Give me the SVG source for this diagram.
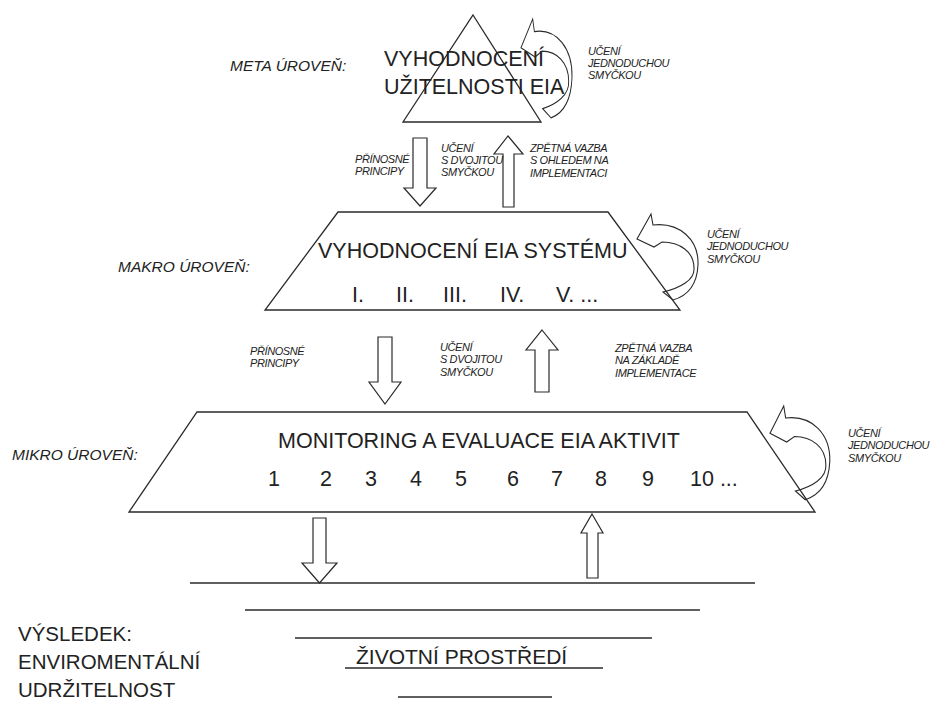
<svg xmlns="http://www.w3.org/2000/svg" width="931" height="724" viewBox="0 0 931 724">
<style>
.ln{fill:none;stroke:#2a2a2a;stroke-width:1.3;stroke-linejoin:miter}
.ar{fill:#fff;stroke:#2a2a2a;stroke-width:1.2}
.cv{fill:none;stroke:#2a2a2a;stroke-width:1.1}
.big{font-family:"Liberation Sans",Arial,sans-serif;font-size:21.5px;fill:#222}
.res{font-family:"Liberation Sans",Arial,sans-serif;font-size:20.5px;fill:#222}
.lvl{font-family:"Liberation Sans",Arial,sans-serif;font-size:15.5px;font-style:italic;fill:#222}
.sm{font-family:"Liberation Sans",Arial,sans-serif;font-size:11px;font-style:italic;fill:#222;letter-spacing:-0.4px}
.num{text-anchor:middle}
</style>
<defs>
<path id="loop" d="M14,0 L0,25 L17,33 L25,28 C43,28 57,38 57,54 C58,66 43,74 26,78 L36,86 C50,82 60,71 61,51 C62,26 43,8 16,11 Z"/>
</defs>
<rect width="931" height="724" fill="#fff"/>

<g id="meta">
<polygon class="ln" points="473,15 541,122 403,122"/>
<text class="big" x="384" y="66">VYHODNOCENÍ</text>
<text class="big" x="384" y="94">UŽITELNOSTI EIA</text>
<text class="lvl" x="230" y="71">META ÚROVEŇ:</text>
</g>

<g id="makro">
<polygon class="ln" points="338,212 608,212 680,310 265,310"/>
<text class="big" x="318" y="258">VYHODNOCENÍ EIA SYSTÉMU</text>
<text class="big" x="352" y="302">I.</text>
<text class="big" x="396" y="302">II.</text>
<text class="big" x="443" y="302">III.</text>
<text class="big" x="500" y="302">IV.</text>
<text class="big" x="556" y="302">V. ...</text>
<text class="lvl" x="118" y="272">MAKRO ÚROVEŇ:</text>
</g>

<g id="mikro">
<polygon class="ln" points="197,412 747,412 815,512 129,512"/>
<text class="big" x="278" y="448">MONITORING A EVALUACE EIA AKTIVIT</text>
<g class="big num">
<text x="274" y="486">1</text>
<text x="326" y="486">2</text>
<text x="371" y="486">3</text>
<text x="416" y="486">4</text>
<text x="461" y="486">5</text>
<text x="513" y="486">6</text>
<text x="557" y="486">7</text>
<text x="601" y="486">8</text>
<text x="648" y="486">9</text>
</g>
<text class="big" x="690" y="486">10 ...</text>
<text class="lvl" x="12" y="460">MIKRO ÚROVEŇ:</text>
</g>

<g id="vysledek">
<line class="ln" x1="190" y1="583" x2="755" y2="583"/>
<line class="ln" x1="245" y1="610" x2="700" y2="610"/>
<line class="ln" x1="295" y1="638" x2="652" y2="638"/>
<line class="ln" x1="345" y1="668" x2="603" y2="668"/>
<line class="ln" x1="398" y1="697" x2="552" y2="697"/>
<text class="res" x="356" y="664" style="font-size:21px">ŽIVOTNÍ PROSTŘEDÍ</text>
<text class="res" x="18" y="641">VÝSLEDEK:</text>
<text class="res" x="18" y="669">ENVIROMENTÁLNÍ</text>
<text class="res" x="18" y="697">UDRŽITELNOST</text>
</g>

<g id="connectors">
<use href="#loop" class="cv" transform="translate(521,19) scale(0.836,1.15)"/>
<use href="#loop" class="cv" transform="translate(637,214)"/>
<use href="#loop" class="cv" transform="translate(770,406) scale(0.98,1.09)"/>
<polygon class="ar" points="413,138 427,138 427,188 436,188 420,206 404,188 413,188"/>
<polygon class="ar" points="508,136 523,154 514,154 514,207 503,207 503,154 494,154"/>
<polygon class="ar" points="378,337 392,337 392,382 401,382 385,404 369,382 378,382"/>
<polygon class="ar" points="542,330 558,350 549,350 549,392 535,392 535,350 526,350"/>
<polygon class="ar" points="313,518 326,518 326,563 337,563 319.5,583 302,563 313,563"/>
<polygon class="ar" points="592,514 603,533 598,533 598,578 587,578 587,533 581,533"/>
</g>

<g id="labels">
<text class="sm" x="588" y="55">UČENÍ</text>
<text class="sm" x="588" y="67">JEDNODUCHOU</text>
<text class="sm" x="588" y="79">SMYČKOU</text>
<text class="sm" x="355" y="163">PŘÍNOSNÉ</text>
<text class="sm" x="355" y="175">PRINCIPY</text>
<text class="sm" x="441" y="152">UČENÍ</text>
<text class="sm" x="441" y="164">S DVOJITOU</text>
<text class="sm" x="441" y="176">SMYČKOU</text>
<text class="sm" x="530" y="152">ZPĚTNÁ VAZBA</text>
<text class="sm" x="530" y="164">S OHLEDEM NA</text>
<text class="sm" x="530" y="177">IMPLEMENTACI</text>
<text class="sm" x="707" y="238">UČENÍ</text>
<text class="sm" x="707" y="250">JEDNODUCHOU</text>
<text class="sm" x="707" y="263">SMYČKOU</text>
<text class="sm" x="250" y="355">PŘÍNOSNÉ</text>
<text class="sm" x="250" y="367">PRINCIPY</text>
<text class="sm" x="440" y="351">UČENÍ</text>
<text class="sm" x="440" y="363">S DVOJITOU</text>
<text class="sm" x="440" y="376">SMYČKOU</text>
<text class="sm" x="615" y="352">ZPĚTNÁ VAZBA</text>
<text class="sm" x="615" y="364">NA ZÁKLADĚ</text>
<text class="sm" x="615" y="377">IMPLEMENTACE</text>
<text class="sm" x="848" y="437">UČENÍ</text>
<text class="sm" x="848" y="449">JEDNODUCHOU</text>
<text class="sm" x="848" y="462">SMYČKOU</text>
</g>
</svg>
